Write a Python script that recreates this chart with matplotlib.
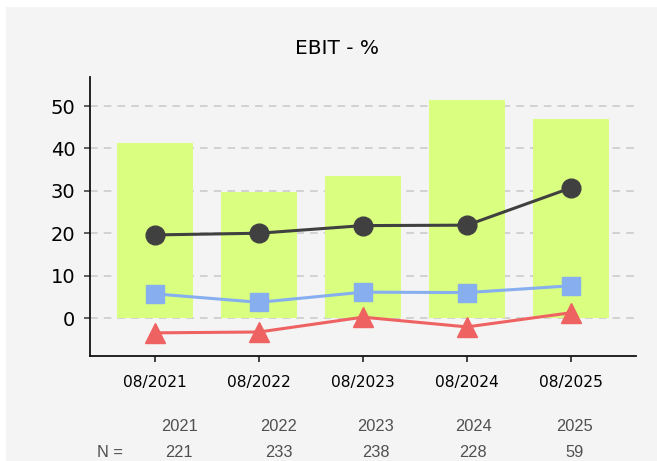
import matplotlib
matplotlib.use("Agg")
import matplotlib.pyplot as plt
from matplotlib.patches import Rectangle

categories = ["08/2021", "08/2022", "08/2023", "08/2024", "08/2025"]
bar_values = [41.3, 29.8, 33.5, 51.4, 46.9]
black_values = [19.6, 20.0, 21.8, 21.9, 30.7]
blue_values = [5.7, 3.7, 6.1, 6.0, 7.6]
red_values = [-3.5, -3.3, 0.2, -2.1, 1.25]
years = ["2021", "2022", "2023", "2024", "2025"]
n_values = ["221", "233", "238", "228", "59"]
yticks = [0, 10, 20, 30, 40, 50]

W, H = 657, 461
fig = plt.figure(figsize=(W / 100, H / 100), dpi=100, facecolor="white")
fig.patches.append(Rectangle((6 / W, 0), 1 - 6 / W, (H - 7) / H,
                             transform=fig.transFigure, facecolor="#f4f4f4",
                             edgecolor="none", zorder=-10))

ax = fig.add_axes([90 / W, (H - 356) / H, (636 - 90) / W, (356 - 77) / H])
ax.set_zorder(1)
ax.patch.set_alpha(0)

x = list(range(len(categories)))
ax.bar(x, bar_values, width=0.74, color="#d9fe80", zorder=2)
ax.plot(x, black_values, color="#404040", lw=2.2, marker="o", ms=13.5, zorder=4)
ax.plot(x, blue_values, color="#87aff0", lw=2.2, marker="s", ms=13.5, zorder=4)
ax.plot(x, red_values, color="#ee6262", lw=2.2, marker="^", ms=14, zorder=4)

ax.set_xlim(-0.625, 4.625)
ax.set_ylim(-8.96, 56.85)
ax.set_yticks(yticks)
ax.set_xticks(x)
ax.set_xticklabels(categories, fontsize=11.2)
ax.tick_params(axis="y", labelsize=14, length=4.5, width=1.2, color="#444444", pad=6)
ax.tick_params(axis="x", length=4.5, width=1.2, color="#222222", pad=9)
ax.yaxis.grid(True, linestyle=(0, (5, 4)), color="#c8c8c8", lw=1.1, zorder=1)
ax.set_axisbelow(True)
for s in ["top", "right"]:
    ax.spines[s].set_visible(False)
for s in ["left", "bottom"]:
    ax.spines[s].set_linewidth(1.3)
    ax.spines[s].set_color("#111111")

fig.text(337 / W, 1 - 48 / H, "EBIT - %", ha="center", va="center", fontsize=14.5)

year_x = [179, 279, 376, 473, 574.5]
for xp, yr, n in zip(year_x, years, n_values):
    fig.text(xp / W, 1 - 426 / H, yr, ha="center", va="center", fontsize=11.8,
             family="Liberation Sans", color="#505050")
    fig.text(xp / W, 1 - 452.5 / H, n, ha="center", va="center", fontsize=11.8,
             family="Liberation Sans", color="#505050")
fig.text(97 / W, 1 - 452.5 / H, "N =", ha="left", va="center", fontsize=11.8,
         family="Liberation Sans", color="#505050")

fig.savefig("out.png", dpi=100, facecolor="white")
